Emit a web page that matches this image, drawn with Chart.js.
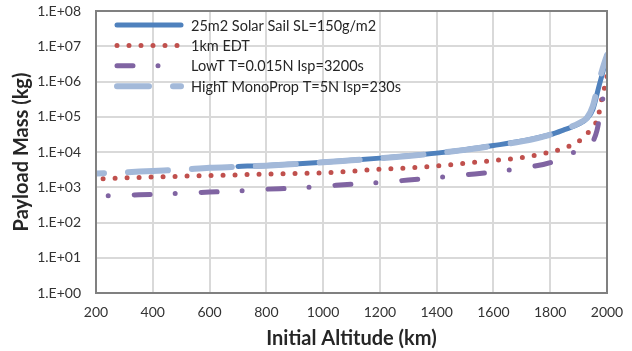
<!DOCTYPE html>
<html>
<head>
<meta charset="utf-8">
<script src="https://cdn.jsdelivr.net/npm/chart.js@4"></script>
<style>
  html, body { margin: 0; padding: 0; background: #fff; }
  #wrap { width: 632px; height: 351px; }
</style>
</head>
<body>
<div id="wrap"><canvas id="payloadChart" width="632" height="351"></canvas></div>
<script>
// series (altitude km -> payload kg)
var sailAlt  = [700, 800, 900, 1000, 1100, 1200, 1300, 1400, 1500, 1600, 1700, 1800, 1850, 1900, 1930, 1950, 1970, 1990, 2000];
var sailMass = [3900, 4150, 4600, 5150, 5850, 6700, 7800, 9300, 11600, 15200, 20500, 31000, 43000, 62000, 90000, 160000, 650000, 2600000, 5600000];

var edtAlt  = [225, 300, 400, 500, 600, 700, 800, 900, 1000, 1100, 1200, 1300, 1400, 1500, 1600, 1700, 1800, 1850, 1900, 1930, 1950, 1960, 1970, 1980, 1990, 2000];
var edtMass = [1750, 1850, 1950, 2050, 2150, 2250, 2350, 2450, 2550, 2850, 3250, 3550, 4000, 4800, 5700, 7000, 10000, 13000, 20000, 33000, 50000, 65000, 110000, 280000, 600000, 1400000];

var lowAlt  = [243, 300, 400, 500, 600, 700, 800, 900, 1000, 1100, 1200, 1300, 1400, 1500, 1600, 1700, 1800, 1860, 1900, 1940, 1965, 1982, 2000];
var lowMass = [570, 590, 630, 670, 730, 790, 880, 950, 1070, 1220, 1360, 1600, 1870, 2250, 2700, 3500, 5000, 8300, 11000, 15000, 42000, 240000, 1150000];

var highAlt  = [200, 300, 400, 500, 600, 700, 800, 900, 1000, 1100, 1200, 1300, 1400, 1500, 1600, 1700, 1800, 1850, 1900, 1930, 1950, 1970, 1990, 2000];
var highMass = [2450, 2650, 2900, 3150, 3550, 3800, 4100, 4550, 5100, 5800, 6600, 7700, 9200, 11500, 15000, 20000, 31000, 44000, 65000, 95000, 200000, 900000, 3200000, 5600000];

var seriesNames = ['25m2 Solar Sail SL=150g/m2', '1km EDT', 'LowT T=0.015N Isp=3200s', 'HighT MonoProp T=5N Isp=230s'];
var yTickValues = [1, 10, 100, 1000, 10000, 100000, 1000000, 10000000, 100000000];
var yTickLabels = ['1.E+00', '1.E+01', '1.E+02', '1.E+03', '1.E+04', '1.E+05', '1.E+06', '1.E+07', '1.E+08'];

var FONT = 'Lato, "Open Sans", "Liberation Sans", sans-serif';
var legendDashOffset = [0, 0, 26, 8];

function pts(xs, ys) {
    return xs.map(function (x, i) { return { x: x, y: ys[i] }; });
}

// legend drawn inside the plot, with the real dash patterns
var insideLegend = {
    id: 'insideLegend',
    afterDatasetsDraw: function (chart) {
        var ctx = chart.ctx;
        ctx.save();
        chart.data.datasets.forEach(function (ds, i) {
            var y = 25 + i * 20.4;
            ctx.beginPath();
            ctx.strokeStyle = ds.borderColor;
            ctx.lineWidth = ds.borderWidth;
            ctx.lineCap = 'round';
            ctx.setLineDash(ds.borderDash || []);
            ctx.lineDashOffset = legendDashOffset[i];
            ctx.moveTo(117, y);
            ctx.lineTo(181, y);
            ctx.stroke();
            ctx.setLineDash([]);
            ctx.fillStyle = '#262626';
            ctx.font = '14.5px ' + FONT;
            ctx.textBaseline = 'middle';
            ctx.textAlign = 'left';
            ctx.fillText(ds.label, 191, y + 1);
        });
        ctx.restore();
    },
    afterDraw: function (chart) {
        var a = chart.chartArea, ctx = chart.ctx;
        ctx.save();
        ctx.strokeStyle = '#808080';
        ctx.lineWidth = 2;
        ctx.strokeRect(a.left, a.top, a.right - a.left, a.bottom - a.top);
        ctx.restore();
    }
};

var common = { pointRadius: 0, fill: false, cubicInterpolationMode: 'monotone', borderCapStyle: 'round', borderJoinStyle: 'round' };

var chart = new Chart(document.getElementById('payloadChart').getContext('2d'), {
    type: 'line',
    data: {
        datasets: [
            Object.assign({ label: seriesNames[0], data: pts(sailAlt, sailMass), borderColor: '#4F81BD', borderWidth: 5, order: 4 }, common),
            Object.assign({ label: seriesNames[1], data: pts(edtAlt, edtMass), borderColor: '#C0504D', borderWidth: 5, borderDash: [0, 12], order: 3 }, common),
            Object.assign({ label: seriesNames[2], data: pts(lowAlt, lowMass), borderColor: '#8064A2', borderWidth: 5, borderDash: [0, 26, 16, 25], order: 2 }, common),
            Object.assign({ label: seriesNames[3], data: pts(highAlt, highMass), borderColor: '#A3B9D9', borderWidth: 6, borderDash: [40, 24], borderDashOffset: 32, order: 1 }, common)
        ]
    },
    options: {
        responsive: false,
        animation: false,
        layout: { padding: { left: 0, right: 25, top: 11, bottom: 0 } },
        plugins: { legend: { display: false }, tooltip: { enabled: false } },
        scales: {
            x: {
                type: 'linear',
                min: 200, max: 2000,
                ticks: {
                    stepSize: 200, color: '#333', font: { size: 14, family: FONT }, padding: 11, maxRotation: 0,
                    callback: function (v) { return String(v); }
                },
                grid: { color: '#D9D9D9', lineWidth: 2, drawTicks: false },
                border: { display: false },
                title: { display: true, text: 'Initial Altitude (km)', color: '#262626', font: { size: 20, weight: 'bold', family: FONT }, padding: { top: 2, bottom: 0 } },
                afterFit: function (s) { s.height = 58; s.paddingLeft = 0; s.paddingRight = 0; }
            },
            y: {
                type: 'logarithmic',
                min: 1, max: 100000000,
                afterBuildTicks: function (s) { s.ticks = yTickValues.map(function (v) { return { value: v }; }); },
                ticks: {
                    color: '#333', font: { size: 14, family: FONT }, padding: 15,
                    callback: function (v) { return yTickLabels[yTickValues.indexOf(v)]; }
                },
                grid: { color: '#D9D9D9', lineWidth: 2, drawTicks: false },
                border: { display: false },
                title: { display: true, text: 'Payload Mass (kg)', color: '#262626', font: { size: 20, weight: 'bold', family: FONT }, padding: { top: 10, bottom: 0 } },
                afterFit: function (s) { s.width = 96; s.paddingTop = 0; s.paddingBottom = 0; }
            }
        }
    },
    plugins: [insideLegend]
});
</script>
</body>
</html>
